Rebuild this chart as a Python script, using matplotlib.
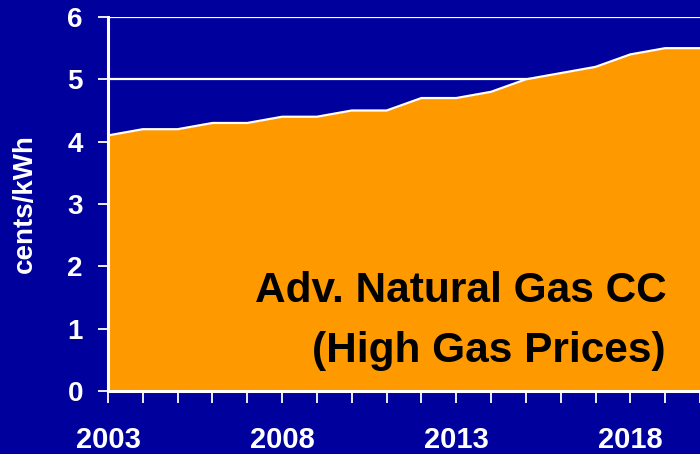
import matplotlib
matplotlib.use("Agg")
import matplotlib.pyplot as plt

years = [2003, 2004, 2005, 2006, 2007, 2008, 2009, 2010, 2011,
         2012, 2013, 2014, 2015, 2016, 2017, 2018, 2019, 2020]
cost = [4.1, 4.2, 4.2, 4.3, 4.3, 4.4, 4.4, 4.5, 4.5,
        4.7, 4.7, 4.8, 5.0, 5.1, 5.2, 5.4, 5.5, 5.5]
xlabels = ["2003", "2008", "2013", "2018"]
yticks = [0, 1, 2, 3, 4, 5, 6]
title_lines = ["Adv. Natural Gas CC", "(High Gas Prices)"]

bg = "#00009C"
orange = "#FF9900"

plt.rcParams["font.family"] = ["Liberation Sans", "DejaVu Sans"]
plt.rcParams["font.weight"] = "bold"

W, H = 700, 454
fig = plt.figure(figsize=(W / 100, H / 100), dpi=100, facecolor=bg)
# axes from x=108px to right edge, y=0 at 391px, y=6 at 17px
ax = fig.add_axes([108 / W, 1 - 391 / H, 592 / W, 374 / H])
ax.set_facecolor(bg)

ax.fill_between(years, cost, 0, color=orange, lw=0, zorder=2)
ax.plot(years, cost, color="white", lw=1.6, zorder=3)

ax.set_xlim(2003, 2019.82)
ax.set_ylim(0, 6)

for v in yticks[1:]:
    ax.axhline(v, color="white", lw=1.6, zorder=1)

ax.set_yticks(yticks)
ax.set_xticks(years)
ax.set_xticklabels([str(y) if str(y) in xlabels else "" for y in years])
ax.tick_params(axis="y", colors="white", labelsize=20, length=7, width=1.3, pad=11, direction="out")
ax.tick_params(axis="x", colors="white", labelsize=21, length=8.5, width=1.3, pad=17, direction="out")
for lab in ax.get_xticklabels() + ax.get_yticklabels():
    lab.set_fontweight("bold")

for side in ["top", "right"]:
    ax.spines[side].set_visible(False)
for side in ["left", "bottom"]:
    ax.spines[side].set_color("white")
    ax.spines[side].set_linewidth(2.2)
    ax.spines[side].set_zorder(5)

ax.set_ylabel("cents/kWh", color="white", fontsize=20, fontweight="bold")
ax.yaxis.set_label_coords(-0.118, 0.5)

fig.text(667 / W, 1 - 302 / H, title_lines[0], ha="right", va="baseline",
         fontsize=30.5, fontweight="bold", color="black", zorder=6)
fig.text(666 / W, 1 - 362 / H, title_lines[1], ha="right", va="baseline",
         fontsize=30.5, fontweight="bold", color="black", zorder=6)

fig.savefig("out.png", dpi=100, facecolor=bg)
